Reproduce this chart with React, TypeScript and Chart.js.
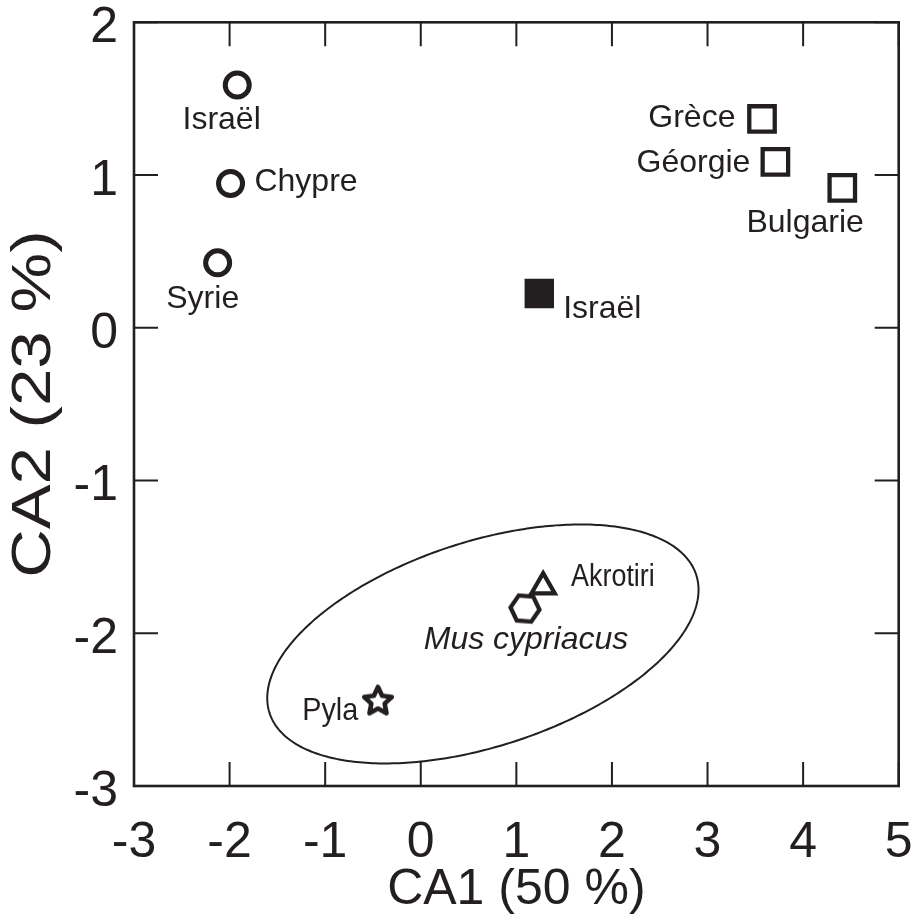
import React, { useEffect, useRef } from 'react';
import { Chart, registerables } from 'chart.js';

Chart.register(...registerables);

const INK = '#231f20';
const FONT = '"Liberation Sans", Arial, Helvetica, sans-serif';

// axis ticks
const xTickValues = [-3, -2, -1, 0, 1, 2, 3, 4, 5];
const yTickValues = [-3, -2, -1, 0, 1, 2];
const xTitle = 'CA1 (50 %)';
const yTitle = 'CA2 (23 %)';

// series (CA1, CA2 scores)
const circleX = [-1.92, -1.99, -2.125];
const circleY = [1.59, 0.945, 0.425];
const openSquareX = [3.57, 3.71, 4.41];
const openSquareY = [1.367, 1.086, 0.916];
const filledSquareX = [1.24];
const filledSquareY = [0.225];
const triangleX = [1.28];
const triangleY = [-1.695];
const hexagonX = [1.09];
const hexagonY = [-1.838];
const starX = [-0.448];
const starY = [-2.44];

// point labels (anchored in data coordinates)
const labelTexts = ['Israël', 'Chypre', 'Syrie', 'Grèce', 'Géorgie', 'Bulgarie', 'Israël', 'Akrotiri', 'Mus cypriacus', 'Pyla'];
const labelX = [-2.083, -1.74, -2.281, 3.292, 3.448, 4.021, 1.49, 1.573, 0.031, -1.24];
const labelY = [1.302, 0.897, 0.127, 1.315, 1.021, 0.629, 0.061, -1.688, -2.106, -2.569];
const labelAlign = ['center', 'left', 'center', 'right', 'right', 'center', 'left', 'left', 'left', 'left'];
const labelItalic = [false, false, false, false, false, false, false, false, true, false];
const labelStretch = [1, 1, 1, 1, 1, 1, 1, 0.84, 1, 0.9];

// confidence ellipse (data units): centre and two conjugate semi-axis vectors
const ellipseCenter = [0.65, -2.07];
const ellipseU = [2.233, 0.45];
const ellipseV = [0.321, -0.64];

function makeStar(): HTMLCanvasElement {
  const c = document.createElement('canvas');
  c.width = 44;
  c.height = 44;
  const g = c.getContext('2d')!;
  g.translate(22, 23);
  g.beginPath();
  for (let i = 0; i < 10; i++) {
    const r = i % 2 === 0 ? 14.5 : 7;
    const a = -Math.PI / 2 + (i * Math.PI) / 5;
    g.lineTo(r * Math.cos(a), r * Math.sin(a));
  }
  g.closePath();
  g.fillStyle = '#fff';
  g.fill();
  g.lineWidth = 4.6;
  g.lineJoin = 'round';
  g.strokeStyle = INK;
  g.stroke();
  return c;
}

function makeHexagon(): HTMLCanvasElement {
  const c = document.createElement('canvas');
  c.width = 44;
  c.height = 44;
  const g = c.getContext('2d')!;
  g.translate(22, 22);
  g.beginPath();
  for (let i = 0; i < 6; i++) {
    const a = (i * Math.PI) / 3 + 0.08;
    g.lineTo(14.5 * Math.cos(a), 14.5 * Math.sin(a));
  }
  g.closePath();
  g.fillStyle = '#fff';
  g.fill();
  g.lineWidth = 4.3;
  g.lineJoin = 'miter';
  g.strokeStyle = INK;
  g.stroke();
  return c;
}

const zip = (xs: number[], ys: number[]) => xs.map((x, i) => ({ x, y: ys[i] }));

const decorPlugin = {
  id: 'decor',
  beforeDatasetsDraw(chart: any) {
    const { ctx, chartArea: a, scales } = chart;
    const xs = scales.x;
    const ys = scales.y;
    ctx.save();
    // ellipse
    ctx.beginPath();
    for (let i = 0; i <= 360; i++) {
      const t = (i * Math.PI) / 180;
      const dx = ellipseCenter[0] + ellipseU[0] * Math.cos(t) + ellipseV[0] * Math.sin(t);
      const dy = ellipseCenter[1] + ellipseU[1] * Math.cos(t) + ellipseV[1] * Math.sin(t);
      const px = xs.getPixelForValue(dx);
      const py = ys.getPixelForValue(dy);
      if (i === 0) ctx.moveTo(px, py);
      else ctx.lineTo(px, py);
    }
    ctx.closePath();
    ctx.lineWidth = 2;
    ctx.strokeStyle = INK;
    ctx.stroke();

    // inward ticks
    const TL = 24;
    ctx.lineWidth = 2;
    ctx.beginPath();
    xTickValues.forEach((v) => {
      const px = xs.getPixelForValue(v);
      ctx.moveTo(px, a.bottom);
      ctx.lineTo(px, a.bottom - TL);
      ctx.moveTo(px, a.top);
      ctx.lineTo(px, a.top + TL);
    });
    yTickValues.forEach((v) => {
      const py = ys.getPixelForValue(v);
      ctx.moveTo(a.left, py);
      ctx.lineTo(a.left + TL, py);
      ctx.moveTo(a.right, py);
      ctx.lineTo(a.right - TL, py);
    });
    ctx.stroke();

    // frame
    ctx.lineWidth = 2.6;
    ctx.strokeRect(a.left, a.top, a.right - a.left, a.bottom - a.top);

    // y axis title (slightly stretched along its length, as in the source figure)
    ctx.save();
    ctx.translate(35, (a.top + a.bottom) / 2);
    ctx.rotate(-Math.PI / 2);
    ctx.scale(1.2, 1);
    ctx.font = `56px ${FONT}`;
    ctx.fillStyle = INK;
    ctx.textAlign = 'center';
    ctx.textBaseline = 'middle';
    ctx.fillText(yTitle, 0, 0);
    ctx.restore();

    ctx.restore();
  },
  afterDatasetsDraw(chart: any) {
    const { ctx, scales } = chart;
    ctx.save();
    ctx.fillStyle = INK;
    ctx.textBaseline = 'alphabetic';
    labelTexts.forEach((t, i) => {
      ctx.save();
      ctx.font = `${labelItalic[i] ? 'italic ' : ''}32px ${FONT}`;
      ctx.textAlign = labelAlign[i];
      ctx.translate(scales.x.getPixelForValue(labelX[i]), scales.y.getPixelForValue(labelY[i]));
      ctx.scale(labelStretch[i], 1);
      ctx.fillText(t, 0, 0);
      ctx.restore();
    });
    ctx.restore();
  },
};

export default function App() {
  const ref = useRef<HTMLCanvasElement>(null);

  useEffect(() => {
    if (!ref.current) return;
    const star = makeStar();
    const hex = makeHexagon();
    const common = { borderColor: INK, showLine: false };
    const chart = new Chart(ref.current, {
      type: 'scatter',
      data: {
        datasets: [
          { ...common, data: zip(circleX, circleY), pointStyle: 'circle', pointRadius: 12, pointBorderWidth: 5, backgroundColor: '#fff' },
          { ...common, data: zip(openSquareX, openSquareY), pointStyle: 'rect', pointRadius: 18, pointBorderWidth: 4.3, backgroundColor: '#fff' },
          { ...common, data: zip(filledSquareX, filledSquareY), pointStyle: 'rect', pointRadius: 18, pointBorderWidth: 4, backgroundColor: INK },
          { ...common, data: zip(triangleX, triangleY), pointStyle: 'triangle', pointRadius: 13.5, pointBorderWidth: 4.2, backgroundColor: '#fff' },
          { ...common, data: zip(hexagonX, hexagonY), pointStyle: hex as any, pointRadius: 16 },
          { ...common, data: zip(starX, starY), pointStyle: star as any, pointRadius: 16 },
        ],
      },
      options: {
        animation: false,
        responsive: false,
        devicePixelRatio: 1,
        events: [],
        layout: { padding: { left: 0, top: 20, right: 19, bottom: 0 } },
        plugins: { legend: { display: false }, tooltip: { enabled: false } },
        scales: {
          x: {
            type: 'linear',
            min: -3,
            max: 5,
            afterBuildTicks: (s: any) => {
              s.ticks = xTickValues.map((v) => ({ value: v }));
            },
            ticks: {
              autoSkip: false,
              maxRotation: 0,
              padding: 19,
              color: INK,
              font: { family: FONT, size: 50 },
              callback: (v: any) => String(v),
            },
            grid: { display: false },
            border: { display: false },
            title: { display: true, text: xTitle, color: INK, font: { family: FONT, size: 50 }, padding: { top: 0, bottom: 0 } },
            afterFit: (s: any) => {
              s.height = 134;
              s.paddingLeft = 0;
              s.paddingRight = 0;
              s.paddingTop = 0;
              s.paddingBottom = 0;
            },
          },
          y: {
            type: 'linear',
            min: -3,
            max: 2,
            afterBuildTicks: (s: any) => {
              s.ticks = yTickValues.map((v) => ({ value: v }));
            },
            ticks: {
              autoSkip: false,
              padding: 8,
              labelOffset: 6,
              color: INK,
              font: { family: FONT, size: 50 },
              callback: (v: any) => String(v),
            },
            grid: { display: false },
            border: { display: false },
            title: { display: false, text: yTitle },
            afterFit: (s: any) => {
              s.width = 134;
              s.paddingLeft = 0;
              s.paddingRight = 0;
              s.paddingTop = 0;
              s.paddingBottom = 0;
            },
          },
        },
      },
      plugins: [decorPlugin],
    } as any);
    return () => chart.destroy();
  }, []);

  return (
    <div style={{ position: 'fixed', left: 0, top: 0, width: 921, height: 920, background: '#fff' }}>
      <canvas ref={ref} width={921} height={920} style={{ width: 921, height: 920, display: 'block' }} />
    </div>
  );
}
